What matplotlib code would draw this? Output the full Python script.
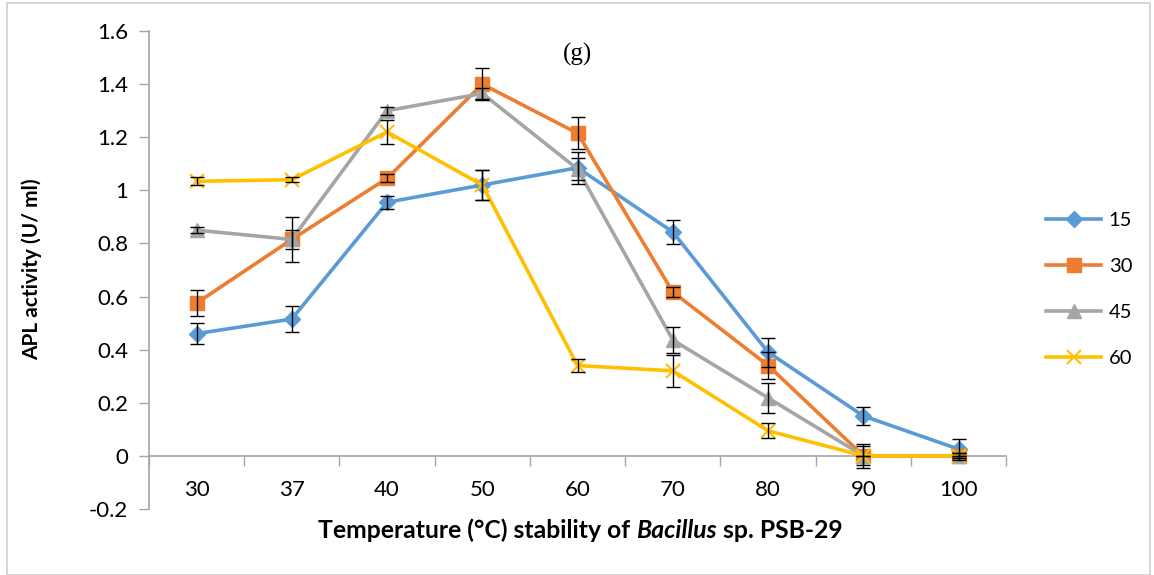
import matplotlib
matplotlib.use("Agg")
import matplotlib.pyplot as plt
import numpy as np
from matplotlib.patches import Rectangle

# Heating temperature categories (°C)
temps = ['30', '37', '40', '50', '60', '70', '80', '90', '100']

# APL activity (U/ml) after incubation for 15, 30, 45 and 60 min
act_15 = [0.46, 0.515, 0.955, 1.02, 1.085, 0.843, 0.39, 0.15, 0.025]
err_15 = [0.04, 0.05, 0.025, 0.055, 0.06, 0.045, 0.055, 0.035, 0.04]
act_30 = [0.575, 0.815, 1.045, 1.40, 1.215, 0.617, 0.34, 0.0, 0.0]
err_30 = [0.05, 0.085, 0.015, 0.06, 0.06, 0.02, 0.05, 0.045, 0.01]
act_45 = [0.85, 0.815, 1.30, 1.365, 1.08, 0.436, 0.218, 0.0, 0.0]
err_45 = [0.01, 0.035, 0.015, 0.02, 0.04, 0.05, 0.057, 0.035, 0.01]
act_60 = [1.034, 1.04, 1.22, 1.02, 0.34, 0.32, 0.094, 0.0, 0.0]
err_60 = [0.015, 0.01, 0.045, 0.055, 0.025, 0.06, 0.028, 0.0, 0.0]

series_labels = ['15', '30', '45', '60']

plt.rcParams['font.family'] = ['Lato', 'DejaVu Sans']

fig = plt.figure(figsize=(11.54, 5.75), dpi=100)
ax = fig.add_axes([0.129, 0.115, 0.743, 0.831])

x = np.arange(len(temps))
styles = [
    dict(color='#5B9BD5', marker='D', ms=8.5, mec='#5B9BD5'),
    dict(color='#ED7D31', marker='s', ms=10, mec='#ED7D31'),
    dict(color='#A5A5A5', marker='^', ms=10, mec='#A5A5A5'),
    dict(color='#FFC000', marker='x', ms=10, mew=1.5, mec='#FFC000'),
]
values = [act_15, act_30, act_45, act_60]
errors = [err_15, err_30, err_45, err_60]

for vals, errs, lab, st in zip(values, errors, series_labels, styles):
    ax.plot(x, vals, lw=2.6, label=lab, zorder=3, **st)
    ax.errorbar(x, vals, yerr=errs, fmt='none', ecolor='black',
                elinewidth=1.0, capsize=5, capthick=1.0, zorder=4)

ax.set_xlim(-0.5, len(temps) - 0.5)
ax.set_ylim(-0.2, 1.6)
ax.set_yticks(np.arange(-0.2, 1.61, 0.2))
ax.set_yticklabels(['-0.2', '0', '0.2', '0.4', '0.6', '0.8', '1', '1.2', '1.4', '1.6'])

# Category boundaries carry the tick marks, category centres carry the labels
ax.set_xticks(np.arange(-0.5, len(temps), 1.0))
ax.set_xticklabels([])
ax.set_xticks(x, minor=True)
ax.set_xticklabels(temps, minor=True)
ax.tick_params(axis='x', which='major', direction='out', length=7, color='#A6A6A6', width=1)
ax.tick_params(axis='x', which='minor', length=0, pad=17.5, labelsize=16)
ax.tick_params(axis='y', direction='out', length=7, color='#A6A6A6', width=1, labelsize=16, pad=8)

for side in ['top', 'right']:
    ax.spines[side].set_visible(False)
ax.spines['bottom'].set_position(('data', 0))
ax.spines['bottom'].set_color('#A6A6A6')
ax.spines['left'].set_color('#A6A6A6')
ax.spines['bottom'].set_linewidth(1.2)
ax.spines['left'].set_linewidth(1.2)

ax.text(0.5, 0.976, '(g)', transform=ax.transAxes, ha='center', va='top', fontsize=18,
        family=['Liberation Serif', 'DejaVu Serif'])

fig.text(0.028, 0.532, 'APL activity (U/ ml)', rotation=90, ha='center', va='center',
         fontsize=15, fontweight='bold')

# x-axis title with the genus name in italics
fs_lab = 17.8
t1 = fig.text(0.0, 0.064, 'Temperature (°C) stability of ', ha='left', va='baseline',
              fontsize=fs_lab, fontweight='bold')
t2 = ax.annotate('Bacillus', xy=(1, 0), xycoords=t1, va='bottom', ha='left',
                 fontsize=fs_lab, fontweight='bold', style='italic')
t3 = ax.annotate(' sp. PSB-29', xy=(1, 0), xycoords=t2, va='bottom', ha='left',
                 fontsize=fs_lab, fontweight='bold')
fig.canvas.draw()
r = fig.canvas.get_renderer()
b1 = t1.get_window_extent(r)
b3 = t3.get_window_extent(r)
total = b3.x1 - b1.x0
cx = 580.0
t1.set_x((cx - total / 2) / fig.bbox.width)

leg = fig.legend(loc='center left', bbox_to_anchor=(0.891, 0.496), frameon=False,
                 fontsize=14.5, handlelength=2.7, labelspacing=1.44, handletextpad=0.4)

fig.add_artist(Rectangle((7 / 1154, 0.0), 1143 / 1154, 1 - 3 / 575, transform=fig.transFigure,
                         fill=False, edgecolor='#D0D0D0', lw=1.2))

fig.savefig('out.png', dpi=100)
